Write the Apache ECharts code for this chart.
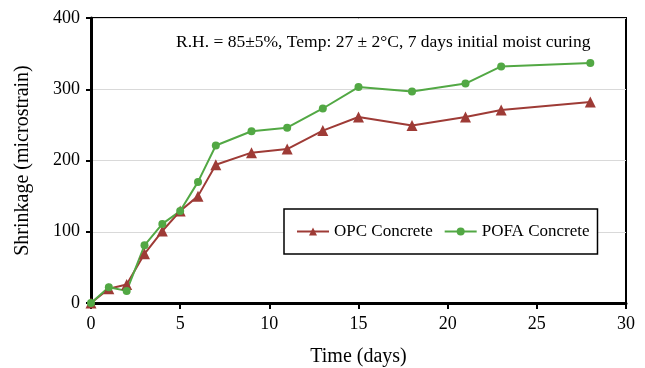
<!DOCTYPE html>
<html>
<head>
<meta charset="utf-8">
<script src="https://cdn.jsdelivr.net/npm/echarts@6/dist/echarts.min.js"></script>
<style>
  html, body { margin: 0; padding: 0; background: #fff; }
  #chart { width: 645px; height: 368px; }
</style>
</head>
<body>
<div id="chart"></div>
<script>
// time in days
const days = [0, 1, 2, 3, 4, 5, 6, 7, 9, 11, 13, 15, 18, 21, 23, 28];
const opcShrinkage = [0, 20, 26, 69, 101, 129, 150, 194, 211, 216, 242, 261, 249, 261, 271, 282];
const pofaShrinkage = [0, 22, 17, 81, 111, 129, 170, 221, 241, 246, 273, 303, 297, 308, 332, 337];
const annotation = 'R.H. = 85±5%, Temp: 27 ± 2°C, 7 days initial moist curing';

const serif = '"Liberation Serif", "DejaVu Serif", serif';
const pair = (xs, ys) => xs.map((x, i) => [x, ys[i]]);

const chart = echarts.init(document.getElementById('chart'));

chart.setOption({
  animation: false,
  textStyle: { fontFamily: serif, color: '#000' },
  grid: {
    left: 91,
    right: 19,
    top: 18,
    bottom: 65,
    outerBoundsMode: 'none',
    show: true,
    borderColor: '#000',
    borderWidth: 2
  },
  legend: {
    left: 284,
    top: 209,
    padding: [14, 8, 14, 12],
    itemGap: 11,
    itemWidth: 32,
    itemHeight: 10,
    backgroundColor: '#fff',
    borderColor: '#000',
    borderWidth: 1.5,
    textStyle: { fontFamily: serif, fontSize: 17, color: '#000' },
    data: ['OPC Concrete', 'POFA Concrete']
  },
  graphic: [{
    type: 'text',
    left: 176,
    top: 33,
    style: { text: annotation, font: '17.5px ' + serif, fill: '#000' }
  }],
  xAxis: {
    type: 'value',
    min: 0,
    max: 30,
    interval: 5,
    name: 'Time (days)',
    nameLocation: 'middle',
    nameGap: 44,
    nameTextStyle: { fontFamily: serif, fontSize: 20, color: '#000' },
    axisLine: { lineStyle: { color: '#000', width: 3 } },
    axisTick: { show: true, length: 6, lineStyle: { color: '#000', width: 2 } },
    axisLabel: { fontFamily: serif, fontSize: 18, color: '#000', margin: 12 },
    splitLine: { show: false }
  },
  yAxis: {
    type: 'value',
    min: 0,
    max: 400,
    interval: 100,
    name: 'Shrinkage (microstrain)',
    nameLocation: 'middle',
    nameGap: 58,
    nameTextStyle: { fontFamily: serif, fontSize: 20, color: '#000' },
    axisLine: { show: true, lineStyle: { color: '#000', width: 3 } },
    axisTick: { show: true, length: 5, lineStyle: { color: '#000', width: 2 } },
    axisLabel: { fontFamily: serif, fontSize: 18, color: '#000', margin: 11 },
    splitLine: { show: true, lineStyle: { color: '#d9d9d9', width: 1 } }
  },
  series: [
    {
      name: 'OPC Concrete',
      type: 'line',
      data: pair(days, opcShrinkage),
      symbol: 'triangle',
      symbolSize: 11,
      lineStyle: { color: '#9e3b36', width: 2 },
      itemStyle: { color: '#9e3b36' },
      emphasis: { disabled: true }
    },
    {
      name: 'POFA Concrete',
      type: 'line',
      data: pair(days, pofaShrinkage),
      symbol: 'circle',
      symbolSize: 8,
      lineStyle: { color: '#52a844', width: 2 },
      itemStyle: { color: '#52a844' },
      emphasis: { disabled: true }
    }
  ]
});
</script>
</body>
</html>
